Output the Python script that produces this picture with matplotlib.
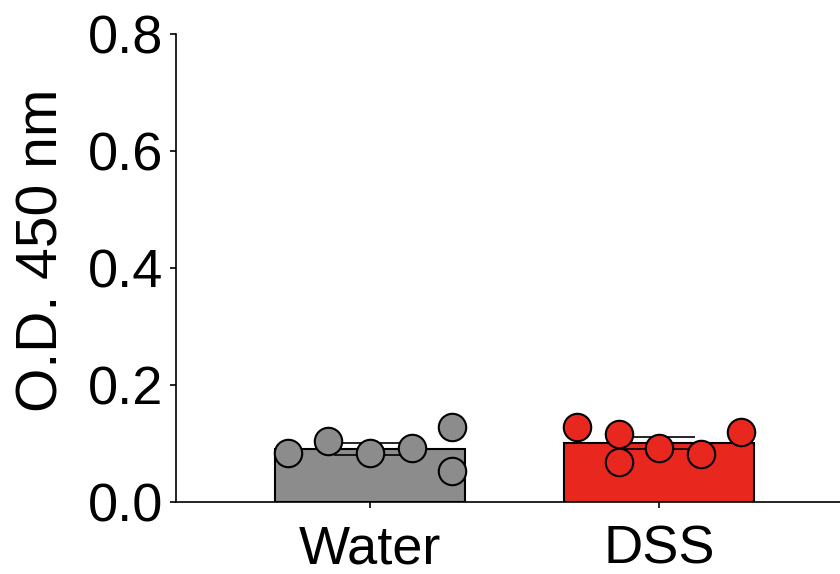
import numpy as np
import matplotlib.pyplot as plt

plt.rcParams['font.family'] = ['Liberation Sans', 'DejaVu Sans']

groups = ['Water', 'DSS']
water = [0.084, 0.104, 0.083, 0.093, 0.128, 0.053]
dss = [0.128, 0.116, 0.068, 0.092, 0.082, 0.120]
# horizontal jitter of each point (in bar-width units)
water_dx = [-0.43, -0.22, 0.0, 0.22, 0.43, 0.43]
dss_dx = [-0.43, -0.21, -0.21, 0.0, 0.22, 0.43]
colors = ['#8c8c8c', '#e8281f']

fig = plt.figure(figsize=(8.4, 5.74), dpi=100)
ax = fig.add_axes([0.2095, 0.1254, 0.7905, 0.8154])

width = 0.66
for i, (vals, dx, c) in enumerate(zip([water, dss], [water_dx, dss_dx], colors)):
    vals = np.array(vals)
    mean = vals.mean()
    sem = vals.std(ddof=1) / np.sqrt(len(vals))
    ax.bar(i, mean, width=width, color=c, edgecolor='black', linewidth=1.5, zorder=1)
    ax.errorbar(i, mean, yerr=sem, color='black', capsize=26, elinewidth=0,
                capthick=1.2, zorder=2)
    xs = i + np.array(dx) * width
    ax.scatter(xs, vals, s=390, color=c, edgecolor='black', linewidth=1.5, zorder=3)

ax.set_xlim(-0.671, 1.626)
ax.set_ylim(0, 0.8)
ax.set_yticks([0, 0.2, 0.4, 0.6, 0.8])
ax.set_yticklabels(['0.0', '0.2', '0.4', '0.6', '0.8'])
ax.set_xticks([0, 1])
ax.set_xticklabels(groups)
ax.set_ylabel('O.D. 450 nm', fontsize=41)
ax.yaxis.set_label_coords(-0.16, 0.538)
ax.tick_params(axis='both', labelsize=39, length=4, width=1.2, pad=5)
ax.tick_params(axis='x', pad=12)
ax.spines['top'].set_visible(False)
ax.spines['right'].set_visible(False)
for s in ['left', 'bottom']:
    ax.spines[s].set_linewidth(1.2)

fig.savefig('out.png', dpi=100)
